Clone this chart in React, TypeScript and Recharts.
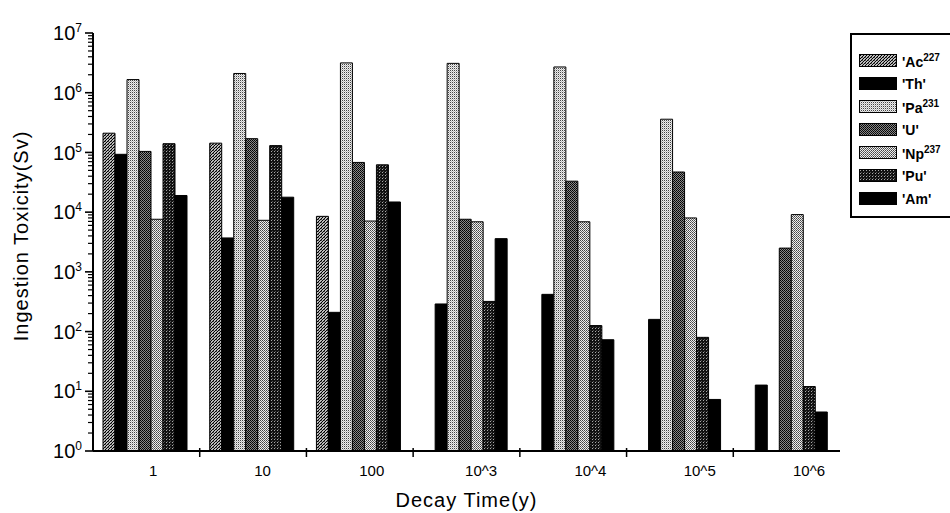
import { Bar, BarChart, Legend, XAxis, YAxis } from 'recharts'

const categories = ['1', '10', '100', '10^3', '10^4', '10^5', '10^6']

const ac = [2.1e5, 1.43e5, 8.5e3, null, null, null, null]
const th = [9.3e4, 3.7e3, 2.1e2, 2.9e2, 4.2e2, 1.6e2, 12.7]
const pa = [1.66e6, 2.1e6, 3.16e6, 3.1e6, 2.7e6, 3.6e5, null]
const u = [1.04e5, 1.7e5, 6.8e4, 7.6e3, 3.3e4, 4.7e4, 2.5e3]
const np = [7.6e3, 7.3e3, 7.1e3, 6.9e3, 6.9e3, 8e3, 9.1e3]
const pu = [1.4e5, 1.3e5, 6.2e4, 3.2e2, 1.26e2, 8e1, 12]
const am = [1.9e4, 1.78e4, 1.48e4, 3.6e3, 7.3e1, 7.3, 4.5]

const majorTicks = [1, 10, 100, 1e3, 1e4, 1e5, 1e6, 1e7]

const series = [
  { key: 'ac', name: "'Ac", sup: '227', fill: 'url(#pAc)' },
  { key: 'th', name: "'Th'", sup: '', fill: '#000' },
  { key: 'pa', name: "'Pa", sup: '231', fill: 'url(#pPa)' },
  { key: 'u', name: "'U'", sup: '', fill: 'url(#pU)' },
  { key: 'np', name: "'Np", sup: '237', fill: 'url(#pNp)' },
  { key: 'pu', name: "'Pu'", sup: '', fill: 'url(#pPu)' },
  { key: 'am', name: "'Am'", sup: '', fill: '#000' },
]

const data = categories.map((cat, i) => ({
  cat,
  ac: ac[i],
  th: th[i],
  pa: pa[i],
  u: u[i],
  np: np[i],
  pu: pu[i],
  am: am[i],
}))

// minor log ticks 2..9 in each decade
const allTicks = majorTicks.flatMap((t, i) =>
  i === majorTicks.length - 1 ? [t] : [t, ...[2, 3, 4, 5, 6, 7, 8, 9].map(m => m * t)]
)

const W = 950
const H = 513
const LEFT = 93
const RIGHT = 110
const PLOT_W = W - LEFT - RIGHT
const FONT = '"Liberation Sans", Arial, sans-serif'

function YTick({ x, y, payload }: any) {
  const v = Number(payload.value)
  const lg = Math.log10(v)
  const exp = Math.round(lg)
  const major = Math.abs(lg - exp) < 1e-6
  return (
    <g>
      <line x1={x - (major ? 8 : 5)} x2={x} y1={y} y2={y} stroke="#000" strokeWidth={major ? 1.6 : 1.2} />
      {major ? (
        <text x={x - 11} y={y} textAnchor="end" fontSize={20} fill="#000" fontFamily={FONT}>
          <tspan dy="0.36em">10</tspan>
          <tspan fontSize={12} dy={-8}>{exp}</tspan>
        </text>
      ) : null}
    </g>
  )
}

function XTick({ x, y, payload, index }: any) {
  const band = PLOT_W / categories.length
  return (
    <g>
      {index > 0 ? <line x1={x - band / 2} x2={x - band / 2} y1={y - 3} y2={y + 6} stroke="#000" strokeWidth={1.5} /> : null}
      <text x={x + 6.8 + 2.6 * index} y={y + 25} textAnchor="middle" fontSize={15} fill="#000" fontFamily={FONT}>
        {payload.value}
      </text>
    </g>
  )
}

function LegendBox() {
  return (
    <div
      style={{
        boxSizing: 'border-box',
        width: 140,
        height: 185,
        border: '2px solid #000',
        background: '#fff',
        paddingTop: 14,
        paddingLeft: 7,
        fontFamily: FONT,
      }}
    >
      {series.map(s => (
        <div key={s.key} style={{ display: 'flex', alignItems: 'center', height: 23 }}>
          <svg width={38} height={13} style={{ display: 'block' }}>
            <rect x={0.5} y={0.5} width={37} height={12} fill={s.fill} stroke="#000" strokeWidth={1} />
          </svg>
          <span style={{ marginLeft: 5, fontSize: 14, fontWeight: 'bold', color: '#000', whiteSpace: 'nowrap' }}>
            {s.name}
            {s.sup ? <sup style={{ fontSize: 10 }}>{s.sup}</sup> : null}
          </span>
        </div>
      ))}
    </div>
  )
}

export default function App() {
  return (
    <div style={{ position: 'absolute', left: 0, top: 0, width: W, height: H, overflow: 'hidden', background: '#fff' }}>
      <BarChart
        width={W}
        height={H}
        data={data}
        margin={{ top: 33, right: RIGHT, bottom: 0, left: 0 }}
        barCategoryGap={10}
        barGap={0}
      >
        <defs>
          <pattern id="pAc" width={3} height={3} patternUnits="userSpaceOnUse">
            <rect width={3} height={3} fill="#bbb" />
            <rect x={0} y={2} width={1} height={1} fill="#000" />
            <rect x={1} y={1} width={1} height={1} fill="#000" />
            <rect x={2} y={0} width={1} height={1} fill="#000" />
            <rect x={0} y={0} width={1} height={1} fill="#555" />
          </pattern>
          <pattern id="pPa" width={2} height={2} patternUnits="userSpaceOnUse">
            <rect width={2} height={2} fill="#eee" />
            <rect x={0} y={0} width={1} height={1} fill="#444" />
            <rect x={1} y={1} width={1} height={1} fill="#bbb" />
          </pattern>
          <pattern id="pU" width={2} height={2} patternUnits="userSpaceOnUse">
            <rect width={2} height={2} fill="#888" />
            <rect x={0} y={0} width={1} height={1} fill="#000" />
            <rect x={1} y={1} width={1} height={1} fill="#111" />
          </pattern>
          <pattern id="pNp" width={2} height={2} patternUnits="userSpaceOnUse">
            <rect width={2} height={2} fill="#eee" />
            <rect x={0} y={0} width={1} height={1} fill="#444" />
            <rect x={1} y={1} width={1} height={1} fill="#666" />
          </pattern>
          <pattern id="pPu" width={3} height={3} patternUnits="userSpaceOnUse">
            <rect width={3} height={3} fill="#111" />
            <rect x={1} y={1} width={1} height={1} fill="#aaa" />
            <rect x={2} y={0} width={1} height={1} fill="#555" />
          </pattern>
        </defs>
        <XAxis
          dataKey="cat"
          height={62}
          interval={0}
          tickLine={false}
          tickSize={0}
          tickMargin={0}
          axisLine={{ stroke: '#000', strokeWidth: 2 }}
          tick={<XTick />}
          label={{ value: 'Decay Time(y)', position: 'insideBottom', offset: 6, fontSize: 20, fill: '#000', fontFamily: FONT, letterSpacing: 1 }}
        />
        <XAxis xAxisId="top" dataKey="cat" orientation="top" height={0} tick={false} tickLine={false} axisLine={{ stroke: '#000', strokeWidth: 2.5 }} />
        <YAxis
          scale="log"
          domain={[1, 1e7]}
          allowDataOverflow
          ticks={allTicks}
          interval={0}
          width={LEFT}
          tickLine={false}
          tickSize={0}
          tickMargin={0}
          axisLine={{ stroke: '#000', strokeWidth: 2 }}
          tick={<YTick />}
          label={{
            value: 'Ingestion Toxicity(Sv)',
            angle: -90,
            position: 'insideLeft',
            offset: 21,
            dy: -6,
            fontSize: 20,
            fill: '#000',
            fontFamily: FONT,
            letterSpacing: 1,
            style: { textAnchor: 'middle' },
          }}
        />
        <YAxis yAxisId="right" orientation="right" width={0} tick={false} tickLine={false} axisLine={{ stroke: '#000', strokeWidth: 2 }} />
        <Legend
          layout="vertical"
          align="center"
          verticalAlign="middle"
          wrapperStyle={{ left: 850, top: 33, width: 140, height: 185 }}
          content={() => <LegendBox />}
        />
        {series.map(s => (
          <Bar key={s.key} dataKey={s.key} name={s.name} fill={s.fill} stroke="#000" strokeWidth={1} isAnimationActive={false} />
        ))}
      </BarChart>
    </div>
  )
}
